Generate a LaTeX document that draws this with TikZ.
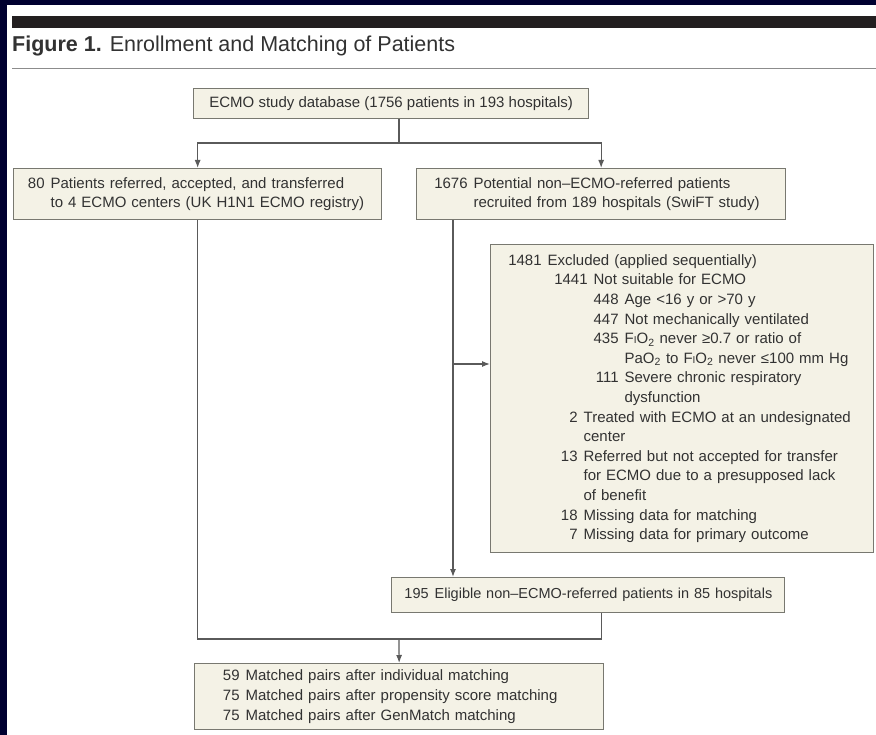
\documentclass[tikz,border=0pt]{standalone}
\usepackage{fontspec}
\setmainfont{Liberation Sans}
\usepackage{tikz}
\usetikzlibrary{arrows.meta}

\definecolor{navy}{RGB}{0,0,48}
\definecolor{boxfill}{RGB}{244,242,230}
\definecolor{boxline}{RGB}{120,120,112}
\definecolor{wire}{RGB}{90,90,90}
\definecolor{txt}{RGB}{50,50,50}
\definecolor{barblack}{RGB}{35,31,32}
\definecolor{rulegray}{RGB}{140,140,140}

\newcommand{\xrow}[3]{\makebox[#1][r]{#2}\hspace{6pt}#3}
\newcommand{\fio}{F{\fontsize{10}{10}\selectfont I}O\textsubscript{2}}

\begin{document}
\begin{tikzpicture}[x=1pt, y=-1pt,
  box/.style={draw=boxline, line width=1.3pt, fill=boxfill, anchor=north west, inner sep=0pt, text=txt, font=\fontsize{15}{19.6}\selectfont},
  link/.style={draw=wire, line width=1.2pt},
  feed/.style={link, -{Latex[length=8pt,width=6pt]}}]
\useasboundingbox (0,0) rectangle (876,735);
\fill[navy] (0,0) rectangle (876,735);
\fill[white] (7,5) rectangle (876,735);
\fill[barblack] (12,16) rectangle (876,28);
\draw[rulegray, line width=1pt] (12,69) -- (876,69);
\node[anchor=base west, inner sep=0pt, text=txt, font=\fontsize{21.5}{24}\selectfont] (title) at (12,52) {\textbf{Figure 1.} Enrollment and Matching of Patients};

% boxes
\node[box, minimum width=395, minimum height=30, align=center] (db) at (193,88) {ECMO study database (1756 patients in 193 hospitals)};
\node[box, minimum height=51, text width=340, inner xsep=14, align=left] (ecmo) at (13,168) {\xrow{17pt}{80}{Patients referred, accepted, and transferred}\\ \xrow{17pt}{}{to 4 ECMO centers (UK H1N1 ECMO registry)}};
\node[box, minimum height=51, text width=335, inner xsep=17, align=left] (swift) at (416,168) {\xrow{34pt}{1676}{Potential non--ECMO-referred patients}\\ \xrow{34pt}{}{recruited from 189 hospitals (SwiFT study)}};
\node[box, minimum height=308, text width=359, inner xsep=12, align=left] (excl) at (490,244) {\xrow{39pt}{1481}{Excluded (applied sequentially)}\\
  \xrow{85pt}{1441}{Not suitable for ECMO}\\
  \xrow{116pt}{448}{Age <16 y or >70 y}\\
  \xrow{116pt}{447}{Not mechanically ventilated}\\
  \xrow{116pt}{435}{\fio{} never ≥0.7 or ratio of}\\
  \xrow{116pt}{}{PaO\textsubscript{2} to \fio{} never ≤100 mm Hg}\\
  \xrow{116pt}{111}{Severe chronic respiratory}\\
  \xrow{116pt}{}{dysfunction}\\
  \xrow{75pt}{2}{Treated with ECMO at an undesignated}\\
  \xrow{75pt}{}{center}\\
  \xrow{75pt}{13}{Referred but not accepted for transfer}\\
  \xrow{75pt}{}{for ECMO due to a presupposed lack}\\
  \xrow{75pt}{}{of benefit}\\
  \xrow{75pt}{18}{Missing data for matching}\\
  \xrow{75pt}{7}{Missing data for primary outcome}};
\node[box, minimum height=35, text width=369, inner xsep=12, align=left, font=\fontsize{14.5}{18}\selectfont] (elig) at (391,577) {\xrow{25pt}{195}{Eligible non--ECMO-referred patients in 85 hospitals}};
\node[box, minimum height=66, text width=353, inner xsep=28, align=left] (match) at (194,663) {\xrow{17pt}{59}{Matched pairs after individual matching}\\
  \xrow{17pt}{75}{Matched pairs after propensity score matching}\\
  \xrow{17pt}{75}{Matched pairs after GenMatch matching}};

% connectors
\coordinate (split) at (399,143);
\draw[link] (split |- db.south) -- (split);
\draw[feed] (split) -| (ecmo.north);
\draw[feed] (split) -| (swift.north);
\coordinate (trunk) at (453,364);
\draw[feed] (trunk |- swift.south) -- (trunk |- elig.north);
\draw[feed] (trunk) -- (trunk -| excl.west);
\coordinate (join) at (399,639);
\draw[link] (ecmo.south) |- (join);
\draw[link] (elig.south -| swift.south) |- (join);
\draw[feed] (join) -- (match.north);
\end{tikzpicture}
\end{document}
